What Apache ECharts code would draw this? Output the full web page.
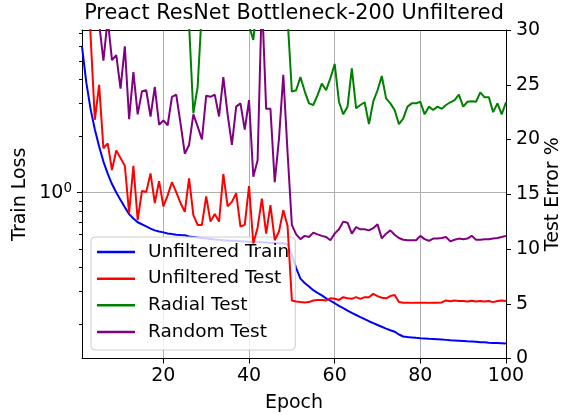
<!DOCTYPE html>
<html>
<head>
<meta charset="utf-8">
<script src="https://cdn.jsdelivr.net/npm/echarts@6/dist/echarts.min.js"></script>
<style>html,body{margin:0;padding:0;background:#fff}#c{width:563px;height:415px}</style>
</head>
<body>
<div id="c"></div>
<script>
// ---- data ----
const epochs = Array.from({length: 100}, (_, i) => i + 1);
const trainLoss = [
  5.96, 3.85, 2.78, 2.165, 1.76, 1.464, 1.264, 1.112, 1.0025, 0.916,
  0.837, 0.770, 0.730, 0.697, 0.680, 0.662, 0.645, 0.631, 0.623, 0.616,
  0.608, 0.603, 0.599, 0.596, 0.594, 0.5853, 0.5818, 0.5782, 0.5747, 0.5712,
  0.5677, 0.5649, 0.5623, 0.5602, 0.5581, 0.5568, 0.5554, 0.5534, 0.5513, 0.5493,
  0.548, 0.5467, 0.5453, 0.544, 0.5426, 0.5413, 0.540, 0.5387, 0.531, 0.467,
  0.398, 0.350, 0.332, 0.318, 0.304, 0.294, 0.285, 0.275, 0.267, 0.259,
  0.251, 0.244, 0.2367, 0.230, 0.2243, 0.2186, 0.2131, 0.2079, 0.2032, 0.1985,
  0.1942, 0.190, 0.1863, 0.1829, 0.1768, 0.1725, 0.1714, 0.1706, 0.1697, 0.1689,
  0.1683, 0.1677, 0.1673, 0.1667, 0.1661, 0.1655, 0.1649, 0.1644, 0.1638, 0.1632,
  0.1626, 0.1622, 0.1616, 0.161, 0.1606, 0.160, 0.1595, 0.1591, 0.1587, 0.1583
];
const unfilteredTest = [
  60, 45, 29.5, 21.8, 25.0, 19.2, 19.65, 17.2, 19.0, 18.3,
  17.6, 13.3, 17.6, 12.65, 15.3, 15.2, 16.9, 14.2, 16.2, 13.9,
  14.9, 16.1, 15.2, 14.2, 13.4, 16.45, 13.1, 12.2, 12.2, 14.8,
  12.5, 13.2, 12.5, 16.85, 13.9, 14.3, 15.1, 12.05, 12.2, 15.75,
  10.5, 11.95, 14.6, 11.4, 14.0, 10.8, 11.6, 13.55, 12.1, 5.3,
  5.2, 5.15, 5.12, 5.15, 5.3, 5.35, 5.35, 5.3, 5.5, 5.45,
  5.35, 5.6, 5.5, 5.45, 5.6, 5.45, 5.6, 5.6, 5.9, 5.7,
  5.55, 5.5, 5.7, 5.8, 5.15, 5.1, 5.1, 5.08, 5.1, 5.1,
  5.1, 5.08, 5.1, 5.1, 5.12, 5.3, 5.22, 5.3, 5.25, 5.25,
  5.2, 5.28, 5.2, 5.25, 5.2, 5.25, 5.15, 5.25, 5.3, 5.25
];
const radialTest = [
  52, 48, 45, 44, 42, 41, 43, 40, 39, 41,
  38, 40, 37, 39, 36, 38, 37, 35, 38, 36,
  35, 37, 34, 36, 35, 30.5, 22.4, 24.8, 32, 36,
  38, 35, 37, 34, 36, 35, 37, 34, 33, 30.4,
  29.1, 33, 36, 34, 37, 35, 36, 34, 31.1, 24.37,
  24.5, 25.7, 24.4, 23.3, 23.15, 24.06, 25.1, 24.5, 25.6, 26.9,
  23.45, 22.3, 23.0, 26.5, 22.85, 23.15, 23.4, 21.4, 23.45, 24.5,
  25.8, 23.75, 23.3, 22.7, 21.4, 21.9, 23.0, 23.3, 23.3, 23.45,
  22.3, 23.0, 22.7, 23.0, 22.8, 23.15, 23.4, 23.6, 24.1, 23.0,
  23.45, 23.5, 23.45, 24.3, 23.85, 23.85, 22.5, 23.3, 22.3, 23.4
];
const randomTest = [
  50, 45, 40, 35, 30.6, 27.2, 31, 27.25, 27.7, 24.65,
  28.5, 21.85, 26.15, 22.3, 24.4, 24.5, 22.1, 24.8, 21.35, 21.75,
  21.3, 23.9, 24.1, 21.5, 18.7, 19.5, 22.3, 21.2, 20.0, 24.0,
  23.9, 24.1, 22.1, 25.7, 22.3, 19.5, 23.0, 23.3, 20.9, 23.6,
  16.6, 18.1, 33, 22.8, 22.8, 16.1, 20.1, 25.9, 18.8, 12.2,
  11.34, 10.9, 11.2, 11.1, 11.5, 11.34, 11.2, 11.1, 10.8, 11.4,
  11.8, 12.5, 12.4, 11.4, 12.0, 11.8, 11.8, 11.7, 11.9, 12.25,
  10.97, 11.4, 11.7, 11.3, 11.0, 10.85, 10.8, 10.8, 10.8, 11.2,
  10.9, 10.75, 10.95, 10.95, 11.0, 11.1, 10.7, 10.85, 10.95, 10.9,
  10.95, 11.2, 10.85, 10.85, 10.9, 10.9, 10.95, 11.0, 11.1, 11.2
];
const seriesNames = ['Unfiltered Train', 'Unfiltered Test', 'Radial Test', 'Random Test'];
const seriesColors = ['#0000ff', '#ff0000', '#008000', '#800080'];
const xTicks = [20, 40, 60, 80, 100];
const lossRange = [0.1318, 7.31];
const lossMajorTicks = [1];
const lossMinorTicks = [0.2, 0.3, 0.4, 0.5, 0.6, 0.7, 0.8, 0.9, 2, 3, 4, 5, 6, 7];
const errorRange = [0, 30];
const errorInterval = 5;

// ---- chart ----
const FONT = 'DejaVu Sans';
const pairs = arr => epochs.map((e, i) => [e, arr[i]]);
const lg = v => Math.log10(v);
const chart = echarts.init(document.getElementById('c'), null, {renderer: 'canvas'});

const lineSeries = (idx, data, yIdx, z) => ({
  name: seriesNames[idx], type: 'line', data: pairs(data),
  xAxisIndex: 0, yAxisIndex: yIdx, symbol: 'none', showSymbol: false,
  lineStyle: {color: seriesColors[idx], width: 2}, itemStyle: {color: seriesColors[idx]},
  z: z, clip: true, emphasis: {disabled: true}, animation: false
});

chart.setOption({
  animation: false,
  backgroundColor: '#fff',
  title: {
    text: 'Preact ResNet Bottleneck-200 Unfiltered',
    left: 294, top: 3, padding: 0, textAlign: 'center',
    textStyle: {fontFamily: FONT, fontSize: 20.8, fontWeight: 'normal', color: '#000'}
  },
  grid: {left: 82, top: 30, width: 424, height: 328.5, containLabel: false, outerBoundsMode: 'none'},
  legend: {
    orient: 'vertical', left: 91, top: 237,
    padding: [5, 6, 8, 6], itemGap: 6.67, itemWidth: 38, itemHeight: 2.5, icon: 'rect',
    backgroundColor: 'rgba(255,255,255,0.8)', borderColor: '#cccccc', borderWidth: 1, borderRadius: 4,
    selectedMode: false, z: 2,
    textStyle: {fontFamily: FONT, fontSize: 18.5, color: '#000', lineHeight: 20, padding: [0, 0, 0, 8]},
    data: seriesNames
  },
  xAxis: [{
    type: 'value', min: epochs[0], max: epochs[epochs.length - 1], position: 'bottom',
    axisLine: {show: true, onZero: false, lineStyle: {color: '#000', width: 1}},
    axisTick: {show: true, customValues: xTicks, length: 5, lineStyle: {color: '#000'}},
    axisLabel: {show: true, customValues: xTicks, margin: 8, fontFamily: FONT, fontSize: 19, color: '#000'},
    splitLine: {show: true, lineStyle: {color: '#b0b0b0', width: 1}},
    name: 'Epoch', nameLocation: 'middle', nameGap: 35, nameMoveOverlap: false,
    nameTextStyle: {fontFamily: FONT, fontSize: 19, color: '#000'}
  }, {
    type: 'value', min: epochs[0], max: epochs[epochs.length - 1], position: 'top',
    axisLine: {show: true, onZero: false, lineStyle: {color: '#000', width: 1}},
    axisTick: {show: false}, axisLabel: {show: false}, splitLine: {show: false}
  }],
  yAxis: [{
    type: 'log', logBase: 10, min: lossRange[0], max: lossRange[1], position: 'left',
    axisLine: {show: true, onZero: false, lineStyle: {color: '#000', width: 1}},
    axisTick: {show: false}, axisLabel: {show: false}, splitLine: {show: false}, minorTick: {show: false}
  }, {
    type: 'value', min: errorRange[0], max: errorRange[1], interval: errorInterval, position: 'right',
    axisLine: {show: true, onZero: false, lineStyle: {color: '#000', width: 1}},
    axisTick: {show: true, length: 5, lineStyle: {color: '#000'}},
    axisLabel: {margin: 10, fontFamily: FONT, fontSize: 19, color: '#000'},
    splitLine: {show: false},
    name: 'Test Error %', nameLocation: 'middle', nameRotate: 90, nameGap: 38, nameMoveOverlap: false,
    nameTextStyle: {fontFamily: FONT, fontSize: 19, color: '#000'}
  }, {
    type: 'value', min: lg(lossRange[0]), max: lg(lossRange[1]), position: 'left',
    axisLine: {show: false},
    axisTick: {show: true, customValues: lossMajorTicks.map(lg), length: 5, lineStyle: {color: '#000'}},
    axisLabel: {
      show: true, customValues: lossMajorTicks.map(lg), margin: 10,
      formatter: v => '{a|10}{b|' + Math.round(v) + '}',
      rich: {
        a: {fontFamily: FONT, fontSize: 19, color: '#000', lineHeight: 22},
        b: {fontFamily: FONT, fontSize: 13.5, color: '#000', verticalAlign: 'top', lineHeight: 14}
      }
    },
    splitLine: {show: true, lineStyle: {color: '#b0b0b0', width: 1}},
    name: 'Train Loss', nameLocation: 'middle', nameRotate: 90, nameGap: 52, nameMoveOverlap: false,
    nameTextStyle: {fontFamily: FONT, fontSize: 19, color: '#000'}
  }, {
    type: 'value', min: lg(lossRange[0]), max: lg(lossRange[1]), position: 'left',
    axisLine: {show: false},
    axisTick: {show: true, customValues: lossMinorTicks.map(lg), length: 3, lineStyle: {color: '#000'}},
    axisLabel: {show: false}, splitLine: {show: false}
  }],
  series: [
    lineSeries(0, trainLoss, 0, 1),
    lineSeries(1, unfilteredTest, 1, 3),
    lineSeries(2, radialTest, 1, 3),
    lineSeries(3, randomTest, 1, 3)
  ]
});
</script>
</body>
</html>
